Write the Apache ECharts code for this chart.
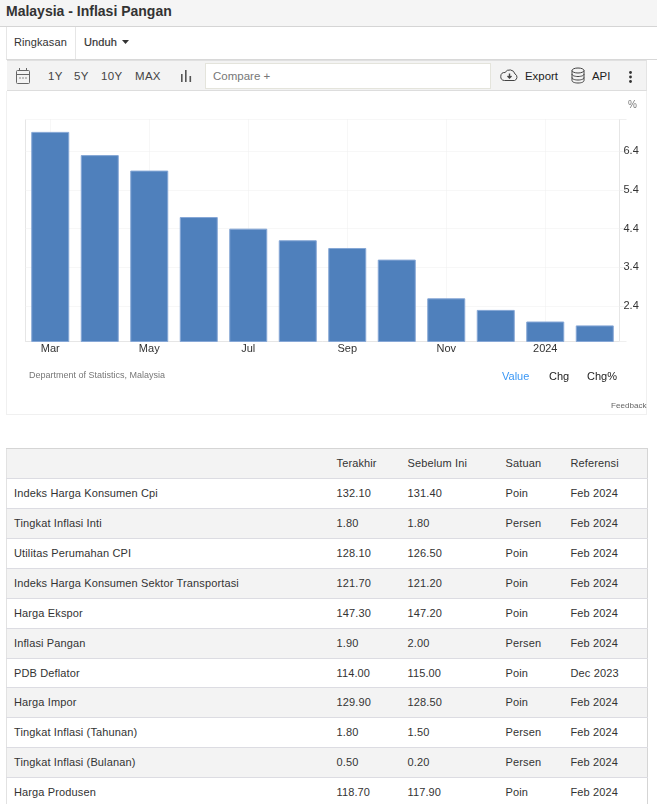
<!DOCTYPE html>
<html><head><meta charset="utf-8">
<script src="https://cdn.jsdelivr.net/npm/echarts@6/dist/echarts.min.js"></script>
<style>
html,body{margin:0;padding:0;background:#fff;width:657px;height:804px;overflow:hidden;font-family:"Liberation Sans",Arial,sans-serif;color:#333}
.abs{position:absolute;white-space:nowrap}
#titlebar{left:0;top:0;width:657px;height:26px;background:#f5f5f5;border-bottom:1px solid #d5d5d5}
#title{left:6px;top:3px;font-size:14px;font-weight:bold;color:#333}
#nav{left:6px;top:27px;width:651px;height:32px;border-left:1px solid #e6e6e6;border-bottom:1px solid #d8d8d8}
.navt{font-size:11px;top:36px;color:#333;letter-spacing:.1px}
#toolbar{left:7px;top:60px;width:640px;height:31px;background:#f3f3f3;border-bottom:1px solid #ddd;border-right:1px solid #e4e4e4;border-top:1px solid #e0e0e0;box-sizing:border-box}
.tb{font-size:11.5px;top:70px;color:#444;letter-spacing:.3px}
#cmp{left:205px;top:63px;width:286px;height:26px;background:#fff;border:1px solid #e4e4dc;box-sizing:border-box;font-size:11.5px;color:#777;padding:6px 7px 4px}
#panel{left:6px;top:91px;width:641px;height:324px;border:1px solid #f0f0f0;border-top:0;box-sizing:border-box}
#chart{left:0;top:0;width:657px;height:420px}
#tbl{left:6px;top:448px;width:642px;border-collapse:collapse;font-size:11px;table-layout:fixed;border-top:1px solid #d5d5d5;border-left:1px solid #e2e2e2;border-right:1px solid #d5d5d5}
#tbl td,#tbl th{font-weight:normal;text-align:left;padding:0 0 2px 7px;border-bottom:1px solid #dcdce2;box-sizing:border-box;color:#333;white-space:nowrap;overflow:hidden;letter-spacing:.13px}
#tbl tr{height:30px}
#tbl tbody tr:nth-child(7){height:29px}
#tbl tbody tr:nth-child(7) td{padding-bottom:0}
#tbl tr:nth-child(even) td,#tbl thead th{background:#f3f3f3}
</style></head><body>
<div class="abs" id="titlebar"></div><div class="abs" id="title">Malaysia - Inflasi Pangan</div>
<div class="abs" id="nav"></div>
<div class="abs" style="left:75px;top:27px;width:1px;height:32px;background:#e6e6e6"></div>
<div class="abs navt" style="left:14px">Ringkasan</div>
<div class="abs navt" style="left:84px;-webkit-text-stroke:.2px #333">Unduh</div>
<svg class="abs" style="left:122px;top:40px" width="7" height="4"><path d="M0 0H7L3.5 4Z" fill="#333"/></svg>
<div class="abs" id="panel"></div>
<div class="abs" id="toolbar"></div>
<svg class="abs" style="left:15px;top:67px" width="16" height="18" fill="none" stroke="#666"><rect x="1.5" y="3.5" width="13" height="13" rx="1"/><path d="M1.5 7.5H14.5M4.5 1V4M11.5 1V4"/><path d="M4 11H6M7 11H9M10 11H12" stroke="#888"/></svg>
<div class="abs tb" style="left:48px">1Y</div><div class="abs tb" style="left:74px">5Y</div><div class="abs tb" style="left:101px">10Y</div><div class="abs tb" style="left:135px">MAX</div>
<svg class="abs" style="left:180px;top:70px" width="12" height="12" fill="#555"><rect x="1" y="4" width="1.6" height="8"/><rect x="5" y="0" width="1.6" height="12"/><rect x="9.5" y="6" width="1.6" height="6"/></svg>
<div class="abs" id="cmp">Compare +</div>
<svg class="abs" style="left:500px;top:68px" width="19" height="15" fill="none" stroke="#444"><path d="M4.5 12.5H14.5A3.5 3.5 0 0 0 15 6A5.5 5.5 0 0 0 5 4.5A4 4 0 0 0 4.5 12.5Z"/><path d="M9.5 5.5V10M7.5 8L9.5 10L11.5 8" stroke-width="1.4"/></svg>
<div class="abs" style="left:525px;top:70px;font-size:11.4px;color:#222">Export</div>
<svg class="abs" style="left:571px;top:67px" width="14" height="17" fill="none" stroke="#444"><ellipse cx="7" cy="3.5" rx="6" ry="2.5"/><path d="M1 3.5V13.5C1 15 3.5 16 7 16S13 15 13 13.5V3.5M1 7C1 8.5 3.5 9.5 7 9.5S13 8.5 13 7M1 10.5C1 12 3.5 13 7 13S13 12 13 10.5"/></svg>
<div class="abs" style="left:592px;top:70px;font-size:11.4px;color:#222">API</div>
<svg class="abs" style="left:628px;top:71px" width="5" height="12" fill="#333"><circle cx="2.5" cy="1.5" r="1.4"/><circle cx="2.5" cy="6" r="1.4"/><circle cx="2.5" cy="10.5" r="1.4"/></svg>
<div class="abs" id="chart"></div>
<table class="abs" id="tbl"><colgroup><col style="width:323px"><col style="width:71px"><col style="width:98px"><col style="width:65px"><col></colgroup><thead></thead><tbody></tbody></table>
<script>
const categories = ['Mar','Apr','May','Jun','Jul','Aug','Sep','Oct','Nov','Dec','2024','Feb'];
const foodInflation = [6.9,6.3,5.9,4.7,4.4,4.1,3.9,3.6,2.6,2.3,2.0,1.9];
const yLabelValues = [2.4,3.4,4.4,5.4,6.4];
const yMin = 1.484, yMax = 7.22;
const tableHeader = ['','Terakhir','Sebelum Ini','Satuan','Referensi'];
const indicators = ['Indeks Harga Konsumen Cpi','Tingkat Inflasi Inti','Utilitas Perumahan CPI','Indeks Harga Konsumen Sektor Transportasi','Harga Ekspor','Inflasi Pangan','PDB Deflator','Harga Impor','Tingkat Inflasi (Tahunan)','Tingkat Inflasi (Bulanan)','Harga Produsen'];
const latest = ['132.10','1.80','128.10','121.70','147.30','1.90','114.00','129.90','1.80','0.50','118.70'];
const previous = ['131.40','1.80','126.50','121.20','147.20','2.00','115.00','128.50','1.50','0.20','117.90'];
const units = ['Poin','Persen','Poin','Poin','Poin','Persen','Poin','Poin','Persen','Persen','Poin'];
const references = ['Feb 2024','Feb 2024','Feb 2024','Feb 2024','Feb 2024','Feb 2024','Dec 2023','Feb 2024','Feb 2024','Feb 2024','Feb 2024'];

document.querySelector('#tbl thead').innerHTML = '<tr>' + tableHeader.map(h => `<th>${h}</th>`).join('') + '</tr>';
document.querySelector('#tbl tbody').innerHTML = indicators.map((n,i) =>
  `<tr><td>${n}</td><td>${latest[i]}</td><td>${previous[i]}</td><td>${units[i]}</td><td>${references[i]}</td></tr>`).join('');

const font = '"Liberation Sans",Arial,sans-serif';
const grid = '#efefef';
const chart = echarts.init(document.getElementById('chart'), null, {renderer:'canvas'});
chart.setOption({
  animation:false,
  grid:{left:25.5,right:37.5,top:119.5,height:222,containLabel:false},
  xAxis:{type:'category',data:categories,
    axisLine:{lineStyle:{color:'#e6e6e6',width:1}},
    axisTick:{show:false,alignWithLabel:true},
    axisLabel:{interval:1,color:'#333',fontFamily:font,fontSize:11,margin:2},
    splitLine:{show:true,interval:1,alignWithLabel:true,lineStyle:{color:grid,type:'dotted'}}},
  yAxis:{type:'value',position:'right',min:yMin,max:yMax,
    axisLine:{show:true,lineStyle:{color:'#e6e6e6'}},
    axisTick:{show:true,length:7,customValues:[yMin,...yLabelValues,yMax],lineStyle:{color:'#efefef'}},
    axisLabel:{customValues:yLabelValues,color:'#333',fontFamily:font,fontSize:11,margin:4,padding:[0,0,8,0],formatter:v=>v.toFixed(1)},
    splitLine:{show:true,lineStyle:{color:grid,type:'dotted'}}},
  series:[{type:'bar',data:foodInflation,barWidth:38,
    itemStyle:{color:'#4f80bc',borderColor:'#86a7d6',borderWidth:1}}],
  graphic:[
    {type:'line',shape:{x1:25.5,y1:119.5,x2:25.5,y2:341.5},style:{stroke:'#e6e6e6',lineWidth:1}},
    {type:'text',x:628,y:100,style:{text:'%',fill:'#777',font:'10px '+font}},
    {type:'text',x:29,y:371,style:{text:'Department of Statistics, Malaysia',fill:'#777',font:'9px '+font}},
    {type:'text',x:502,y:371,style:{text:'Value',fill:'#3a97f5',font:'11px '+font}},
    {type:'text',x:549,y:371,style:{text:'Chg',fill:'#222',font:'11px '+font}},
    {type:'text',x:587,y:371,style:{text:'Chg%',fill:'#222',font:'11px '+font}},
    {type:'text',x:611,y:402,style:{text:'Feedback',fill:'#666',font:'8.1px '+font}}
  ]
});
</script></body></html>
